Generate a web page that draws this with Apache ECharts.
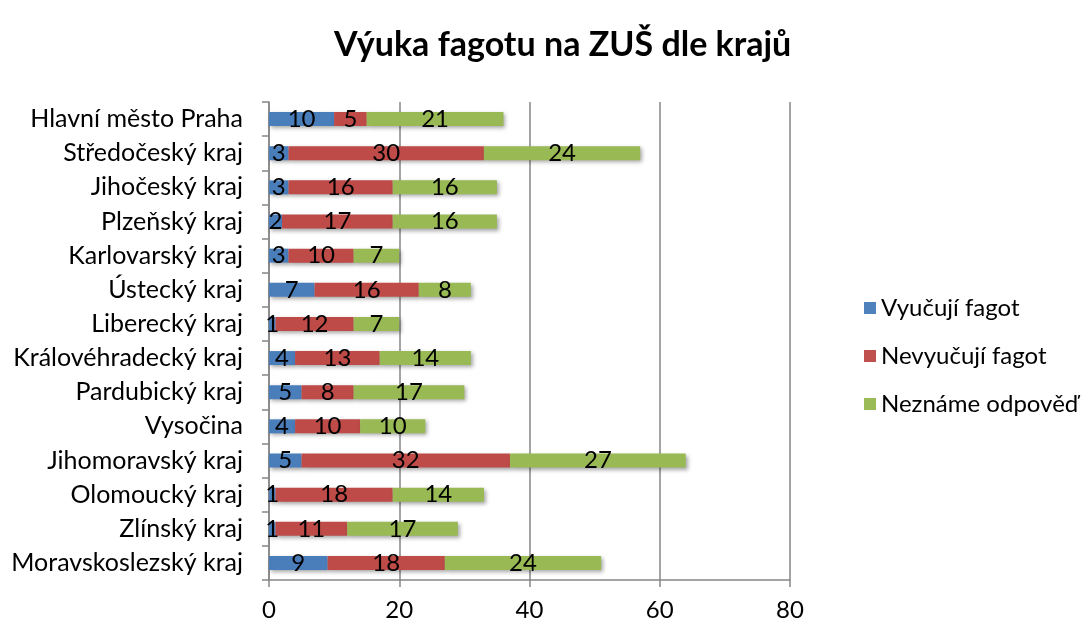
<!DOCTYPE html>
<html><head><meta charset="utf-8">
<script src="https://cdn.jsdelivr.net/npm/echarts@6/dist/echarts.min.js"></script>
<style>html,body{margin:0;padding:0;background:#fff}#c{width:1091px;height:626px}</style>
</head><body><div id="c"></div>
<script>
const categories = ["Hlavní město Praha","Středočeský kraj","Jihočeský kraj","Plzeňský kraj","Karlovarský kraj","Ústecký kraj","Liberecký kraj","Královéhradecký kraj","Pardubický kraj","Vysočina","Jihomoravský kraj","Olomoucký kraj","Zlínský kraj","Moravskoslezský kraj"];
const vyucuji = [10,3,3,2,3,7,1,4,5,4,5,1,1,9];
const nevyucuji = [5,30,16,17,10,16,12,13,8,10,32,18,11,18];
const nezname = [21,24,16,16,7,8,7,14,17,10,27,14,17,24];
const seriesNames = ["Vyučují fagot","Nevyučují fagot","Neznáme odpověď"];
const xTicks = [0,20,40,60,80];

const font = "Lato, 'Open Sans', sans-serif";
const colors = ["#4a7ebb","#be4b48","#98b954"];
const legendColors = ["#4f81bd","#c0504d","#9bbb59"];
const chart = echarts.init(document.getElementById('c'));
const mk = (name, data, i) => ({
  name, type: 'bar', stack: 'a', data, barWidth: 14,
  itemStyle: { color: colors[i], shadowColor: 'rgba(0,0,0,0.35)', shadowBlur: 4, shadowOffsetX: 2, shadowOffsetY: 2 },
  label: { show: true, position: 'inside', color: '#000', fontFamily: font, fontSize: 24 }
});
chart.setOption({
  animation: false,
  title: { text: "Výuka fagotu na ZUŠ dle krajů", left: 329, top: 23,
    textStyle: { fontFamily: font, fontSize: 34, fontWeight: 'bold', color: '#000' } },
  legend: {
    orient: 'vertical', left: 859, top: 290, itemGap: 22, itemWidth: 12, itemHeight: 12, icon: 'rect',
    textStyle: { fontFamily: font, fontSize: 24, lineHeight: 26, color: '#000' },
    data: seriesNames.map((n, i) => ({ name: n, itemStyle: { color: legendColors[i] } }))
  },
  grid: { left: 269, right: 301, top: 102, bottom: 46, containLabel: false },
  xAxis: {
    type: 'value', min: xTicks[0], max: xTicks[xTicks.length - 1], interval: 20,
    axisLine: { show: true, lineStyle: { color: '#868686', width: 1.5 } },
    axisTick: { show: true, length: 7, lineStyle: { color: '#868686', width: 1.5 } },
    axisLabel: { fontFamily: font, fontSize: 24, color: '#000', margin: 18 },
    splitLine: { show: true, lineStyle: { color: '#868686', width: 1.5 } }
  },
  yAxis: {
    type: 'category', data: categories, inverse: true,
    axisLine: { show: true, lineStyle: { color: '#868686', width: 1.5 } },
    axisTick: { show: true, length: 7, lineStyle: { color: '#868686', width: 1.5 } },
    axisLabel: { fontFamily: font, fontSize: 25, color: '#000', margin: 26 }
  },
  series: [mk(seriesNames[0], vyucuji, 0), mk(seriesNames[1], nevyucuji, 1), mk(seriesNames[2], nezname, 2)]
});
</script></body></html>
